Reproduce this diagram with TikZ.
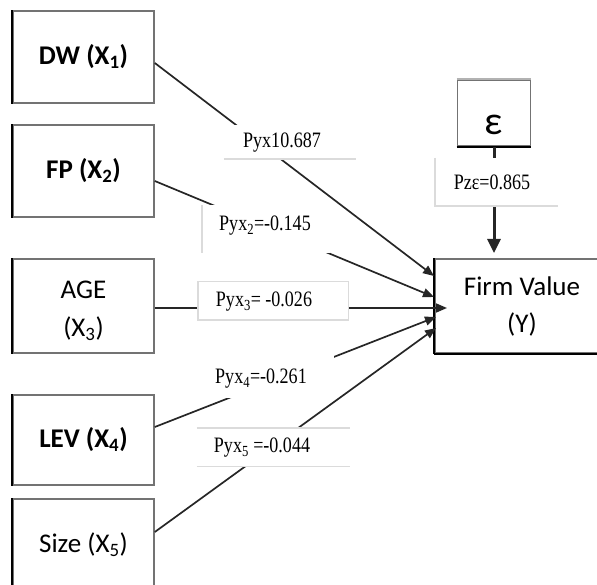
\documentclass[tikz,border=0pt]{standalone}
\usepackage{fontspec}
\setmainfont{Carlito}
\newfontfamily\labfont{Liberation Serif}
\usetikzlibrary{arrows.meta}

\begin{document}
\begin{tikzpicture}[x=1pt,y=-1pt,
  var/.style={rectangle, draw=black!55, line width=1.6pt, fill=white,
    font=\fontsize{27}{37}\selectfont, align=center, inner sep=0pt},
  blackedge/.style={draw=black, line width=1.6pt},
  frame/.style={rectangle, fill=white, inner sep=0pt},
  grayedge/.style={draw=black!14, line width=1.4pt},
  lbl/.style={font=\labfont\fontsize{22}{24}\selectfont, inner sep=0pt, xscale=0.82},
  conn/.style={draw=black!85, line width=1.7pt, -{Triangle[length=11pt,width=9pt]}},
  errconn/.style={draw=black!85, line width=3pt, -{Triangle[length=14pt,width=13pt]}}
]
\useasboundingbox (0,0) rectangle (597,585);
\clip (0,0) rectangle (597,585);

% variable boxes
\node[var, minimum width=141pt, minimum height=92pt] (dw) at (83.5,57) {\textbf{DW (X\textsubscript{1})}};
\node[var, minimum width=141pt, minimum height=92pt] (fp) at (83.5,171) {\textbf{FP (X\textsubscript{2})}};
\node[var, minimum width=141pt, minimum height=94pt,
  label={[align=center, font=\fontsize{27}{38}\selectfont, inner sep=0pt, yshift=-5pt]center:{AGE\\(X\textsubscript{3})}}] (age) at (83.5,306) {};
\node[var, minimum width=141pt, minimum height=90pt] (lev) at (83.5,440) {\textbf{LEV (X\textsubscript{4})}};
\node[var, minimum width=141pt, minimum height=91pt] (size) at (83.5,544.5) {Size (X\textsubscript{5})};
\node[var, minimum width=174pt, minimum height=94pt] (firm) at (522,306) {Firm Value\\(Y)};
\node[var, minimum width=73pt, minimum height=66pt,
  label={[font=\fontsize{40}{40}\selectfont, inner sep=0pt, yshift=-12pt]center:ε}] (eps) at (494,113) {};

% darker and lighter box edges
\foreach \b in {dw,fp,age,lev,size,firm}
  \draw[blackedge] (\b.south west) -- (\b.north west);
\draw[blackedge] (firm.south west) -- (firm.south east);
\draw[blackedge] (eps.south west) -- (eps.south east);
\draw[draw=black!30, line width=1.6pt] (eps.north west) -- (eps.north east);

% arrow targets on the dependent variable
\coordinate (t1) at (434,276);
\coordinate (t2) at (434,297);
\coordinate (t3) at (447,308);
\coordinate (t4) at (436,317);
\coordinate (t5) at (436,328);
\coordinate (te) at (494,253);

% path connectors
\draw[conn] ([yshift=-6pt]dw.east) -- (t1);
\draw[conn] ([yshift=-10pt]fp.east) -- (t2);
\draw[conn] ([yshift=-2pt]age.east) -- (t3);
\draw[conn] ([yshift=13pt]lev.east) -- (t4);
\draw[conn] ([yshift=12.5pt]size.east) -- (t5);
\draw[errconn] (eps.south) -- (te);

% coefficient frames
\node[frame, minimum width=132pt, minimum height=34pt] (f1) at (290,142) {};
\node[frame, minimum width=128pt, minimum height=48pt] (f2) at (266,229) {};
\node[frame, minimum width=150pt, minimum height=38pt] (f3) at (273,301) {};
\node[frame, minimum width=134pt, minimum height=43pt] (f4) at (267,376.5) {};
\node[frame, minimum width=153pt, minimum height=38pt] (f5) at (273.5,447) {};
\node[frame, minimum width=123pt, minimum height=48pt] (fe) at (496.5,182) {};

\draw[grayedge] (f1.south west) -- (f1.south east);
\draw[grayedge] (f2.north west) -- (f2.south west);
\draw[grayedge] (f3.south west) rectangle (f3.north east);
\draw[grayedge] (f5.south west) -- (f5.south east);
\draw[grayedge] (f5.north west) -- (f5.north east);
\draw[grayedge] (fe.north west) -- (fe.south west) -- (fe.south east);

% coefficient labels
\node[lbl] (l1) at (282,143) {Pyx10.687};
\node[lbl] (l2) at (265,226) {Pyx\textsubscript{2}=-0.145};
\node[lbl] (l3) at (264,302) {Pyx\textsubscript{3}= -0.026};
\node[lbl] (l4) at (261,379) {Pyx\textsubscript{4}=-0.261};
\node[lbl] (l5) at (262,448) {Pyx\textsubscript{5} =-0.044};
\node[lbl] (le) at (492,182) {Pzε=0.865};
\end{tikzpicture}
\end{document}
